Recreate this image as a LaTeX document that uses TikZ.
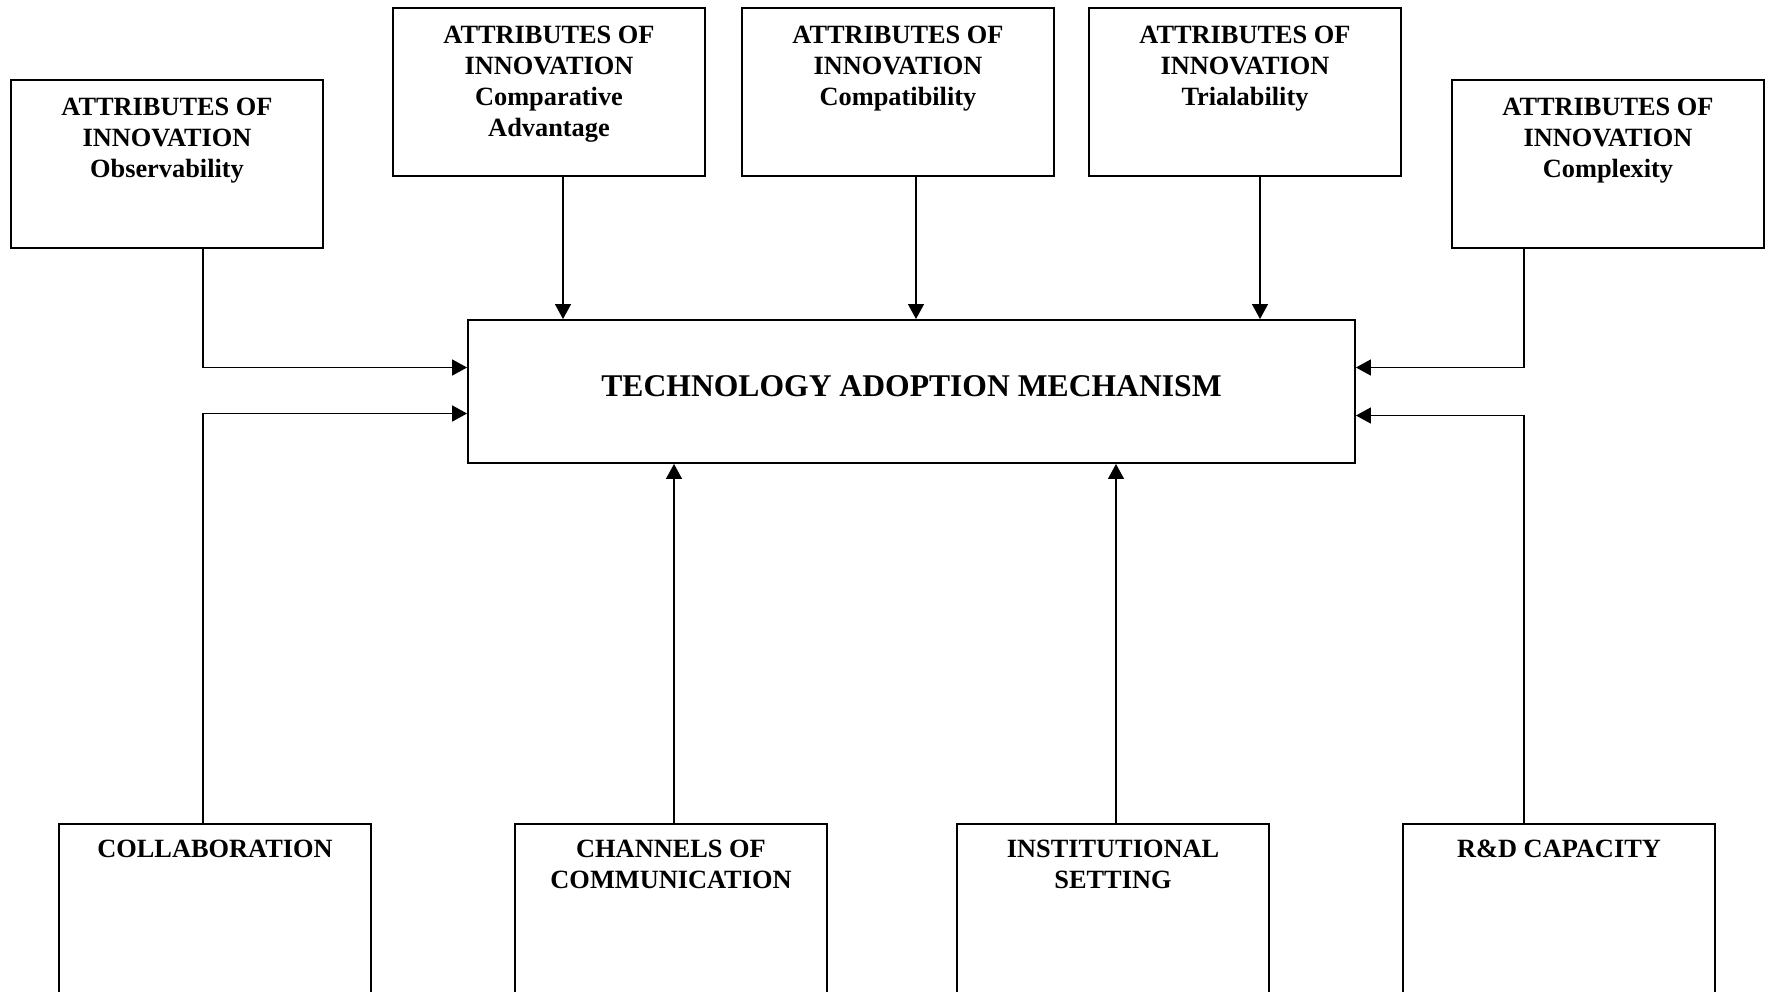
\documentclass[tikz,border=0pt]{standalone}
\usepackage{fontspec}
\setmainfont{Liberation Serif}
\usetikzlibrary{positioning,arrows.meta,calc}

\begin{document}
\begin{tikzpicture}[
  x=0.02cm, y=-0.02cm,
  attr/.style={draw, line width=1.1pt, minimum width=6.24cm, minimum height=3.36cm, inner sep=0pt},
  factor/.style={draw, line width=1.1pt, minimum width=6.24cm, minimum height=5cm, inner sep=0pt},
  core/.style={draw, line width=1.1pt, minimum width=17.74cm, minimum height=2.86cm, inner sep=0pt},
  lbl/.style={align=center, inner sep=0pt, anchor=north, font=\fontsize{15}{17.5}\selectfont\bfseries},
  arr/.style={-{Triangle[length=8.5pt,width=9pt]}, line width=1pt}
]
\clip (0,0) rectangle (1767,991);
\fill[white] (0,0) rectangle (1767,991);

% attributes of innovation
\node[attr] (obs)    at (167,164)  {};
\node[attr] (cadv)   at (549,92)   {};
\node[attr] (compat) at (898,92)   {};
\node[attr] (trial)  at (1245,92)  {};
\node[attr] (cplx)   at (1608,164) {};

\node[lbl] (obs-t)    at ($(obs.north)+(0,19)$)    {ATTRIBUTES OF\\INNOVATION\\Observability};
\node[lbl] (cadv-t)   at ($(cadv.north)+(0,19)$)   {ATTRIBUTES OF\\INNOVATION\\Comparative\\Advantage};
\node[lbl] (compat-t) at ($(compat.north)+(0,19)$) {ATTRIBUTES OF\\INNOVATION\\Compatibility};
\node[lbl] (trial-t)  at ($(trial.north)+(0,19)$)  {ATTRIBUTES OF\\INNOVATION\\Trialability};
\node[lbl] (cplx-t)   at ($(cplx.north)+(0,19)$)   {ATTRIBUTES OF\\INNOVATION\\Complexity};

% central mechanism
\node[core] (main) at (911.5,391.5) {};
\node[font=\fontsize{18}{21}\selectfont\bfseries, inner sep=0pt] (main-t)
  at ($(main.center)+(0,-5)$) {TECHNOLOGY ADOPTION MECHANISM};

% other factors
\node[factor] (collab) at (215,949)  {};
\node[factor] (chan)   at (671,949)  {};
\node[factor] (inst)   at (1113,949) {};
\node[factor] (rd)     at (1559,949) {};

\node[lbl] (collab-t) at ($(collab.north)+(0,17)$) {COLLABORATION};
\node[lbl] (chan-t)   at ($(chan.north)+(0,17)$)   {CHANNELS OF\\COMMUNICATION};
\node[lbl] (inst-t)   at ($(inst.north)+(0,17)$)   {INSTITUTIONAL\\SETTING};
\node[lbl] (rd-t)     at ($(rd.north)+(0,17)$)     {R\&D CAPACITY};

% connectors
\draw[arr] ($(obs.south)+(36,0)$) |- ($(main.west)+(0,-24)$);
\draw[arr] ($(collab.north)+(-12,0)$) |- ($(main.west)+(0,22)$);
\draw[arr] ($(cplx.south)+(-84,0)$) |- ($(main.east)+(0,-24)$);
\draw[arr] ($(rd.north)+(-35,0)$) |- ($(main.east)+(0,24)$);

\draw[arr] ($(cadv.south)+(14,0)$) coordinate (a1) -- (a1 |- main.north);
\draw[arr] ($(compat.south)+(18,0)$) coordinate (a2) -- (a2 |- main.north);
\draw[arr] ($(trial.south)+(15,0)$) coordinate (a3) -- (a3 |- main.north);

\draw[arr] ($(chan.north)+(3,0)$) coordinate (b1) -- (b1 |- main.south);
\draw[arr] ($(inst.north)+(3,0)$) coordinate (b2) -- (b2 |- main.south);
\end{tikzpicture}
\end{document}
